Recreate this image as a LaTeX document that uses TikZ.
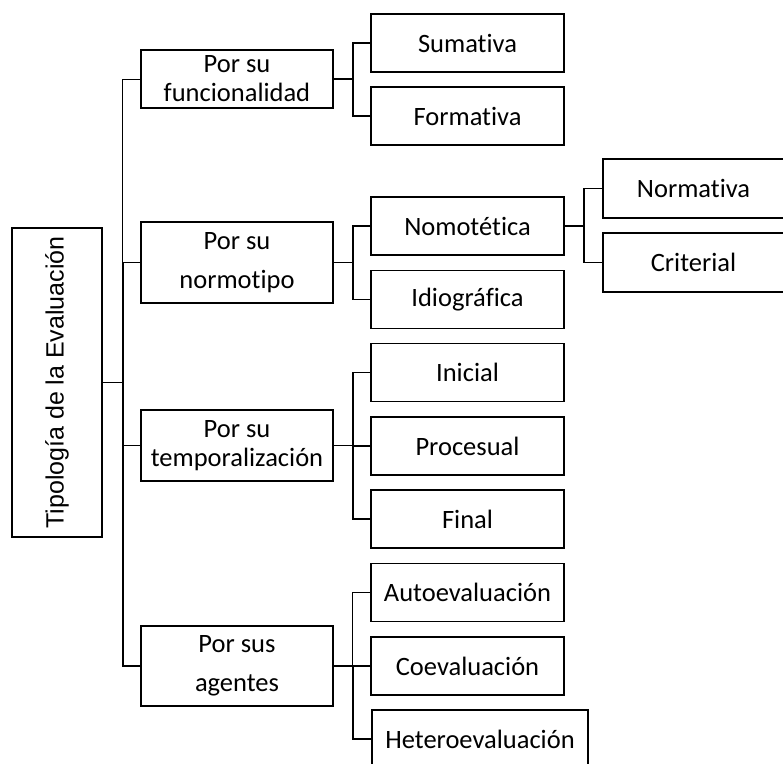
\documentclass[tikz,border=0pt]{standalone}
\usepackage{fontspec}
\setmainfont[RawFeature={-liga;-clig;-calt;-rlig;-dlig;-ccmp}]{Carlito}
\newfontfamily\rootfont{Liberation Sans}
\begin{document}
\begin{tikzpicture}[x=1pt,y=-1pt,
  box/.style={draw, line width=1.7pt, rectangle, inner sep=0pt, align=center,
              font=\fontsize{26.5}{29}\selectfont},
  lvlone/.style={box, minimum width=192pt},
  lvltwo/.style={box, minimum width=193pt, minimum height=58pt},
  lvlthree/.style={box, minimum width=181pt, minimum height=59pt},
  wire/.style={line width=1.6pt},
  fine/.style={line width=1pt}]
\clip (0,0) rectangle (783,763);
\fill[white] (0,0) rectangle (783,763);

% root
\node[box, minimum width=90pt, minimum height=309pt] (root) at (57,382.5)
  {\rotatebox{90}{\rootfont\fontsize{25}{28}\selectfont Tipología de la Evaluación}};

% first level
\node[lvlone, minimum height=58pt] (func) at (237,79) {Por su\\funcionalidad};
\node[lvlone, minimum height=81pt] (norm) at (237,262.5) {Por su\\[10pt]normotipo};
\node[lvlone, minimum height=71pt] (temp) at (237,445.5) {Por su\\temporalización};
\node[lvlone, minimum height=80pt] (agen) at (237,666) {Por sus\\[10pt]agentes};

% second level
\node[lvltwo] (suma) at (467.5,43) {Sumativa};
\node[lvltwo] (form) at (467.5,116) {Formativa};
\node[lvltwo] (nomo) at (467.5,226) {Nomotética};
\node[lvltwo] (idio) at (467.5,299.5) {Idiográfica};
\node[lvltwo] (inic) at (467.5,372.5) {Inicial};
\node[lvltwo] (proc) at (467.5,446) {Procesual};
\node[lvltwo] (fina) at (467.5,519) {Final};
\node[lvltwo] (auto) at (467.5,592.5) {Autoevaluación};
\node[lvltwo] (coev) at (467.5,666) {Coevaluación};
\node[box, minimum width=216pt, minimum height=58pt] (hete) at (480,739) {Heteroevaluación};

% third level
\node[lvlthree] (nrmt) at (693.5,188.5) {Normativa};
\node[lvlthree] (crit) at (693.5,262.5) {Criterial};

% connectors from the root
\draw[fine] (root.east) -- ++(20,0) |- (func.west);
\draw[wire] (root.east) -- ++(20,0) |- (norm.west);
\draw[fine] (root.east) -- ++(20,0) |- (temp.west);
\draw[wire] (root.east) -- ++(20,0) |- (agen.west);

% connectors to the second level
\draw[wire] (func.east) -- ++(19,0) |- (suma.west);
\draw[wire] (func.east) -- ++(19,0) |- (form.west);
\draw[wire] (norm.east) -- ++(19,0) |- (nomo.west);
\draw[wire] (norm.east) -- ++(19,0) |- (idio.west);
\draw[wire] (temp.east) -- ++(19,0) |- (inic.west);
\draw[wire] (temp.east) -- ++(19,0) |- (proc.west);
\draw[wire] (temp.east) -- ++(19,0) |- (fina.west);
\draw[fine] (agen.east) -- ++(19,0) |- (auto.west);
\draw[wire] (agen.east) -- ++(19,0) |- (coev.west);
\draw[wire] (agen.east) -- ++(19,0) |- (hete.west);

% connectors to the third level
\draw[wire] (nomo.east) -- ++(19,0) |- (nrmt.west);
\draw[wire] (nomo.east) -- ++(19,0) |- (crit.west);
\end{tikzpicture}
\end{document}
